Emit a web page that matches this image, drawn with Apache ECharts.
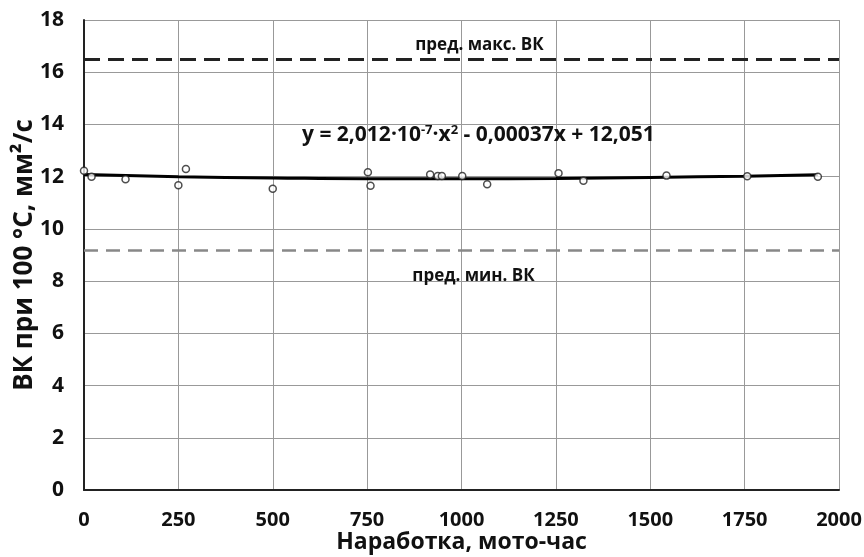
<!DOCTYPE html>
<html>
<head>
<meta charset="utf-8">
<script src="https://cdn.jsdelivr.net/npm/echarts@6/dist/echarts.min.js"></script>
<style>
  html, body { margin: 0; padding: 0; background: #fff; }
  #chart { width: 864px; height: 557px; }
</style>
</head>
<body>
<div id="chart"></div>
<script>
// measured points: hours vs viscosity at 100 °C
const hours = [0, 20, 110, 250, 270, 500, 752, 759, 917, 937, 948, 1002, 1068, 1257, 1323, 1543, 1757, 1944];
const viscosity = [12.23, 12.0, 11.9, 11.67, 12.29, 11.54, 12.17, 11.65, 12.08, 12.03, 12.03, 12.03, 11.71, 12.13, 11.84, 12.04, 12.02, 12.0];

// trend curve, read at a few points
const trendX = [0, 250, 500, 750, 1000, 1250, 1500, 1750, 1944];
const trendY = [12.08, 12.0, 11.95, 11.92, 11.92, 11.93, 11.97, 12.02, 12.07];

const maxLimit = 16.5;
const minLimit = 9.2;

const xTicks = { min: 0, max: 2000, step: 250 };
const yTicks = { min: 0, max: 18, step: 2 };

const font = 'Open Sans';

const chart = echarts.init(document.getElementById('chart'));

const option = {
    animation: false,
    backgroundColor: '#fff',
    grid: { left: 84, right: 25, top: 20, bottom: 67, containLabel: false, outerBoundsMode: 'none' },
    textStyle: { fontFamily: font },
    xAxis: {
        type: 'value',
        min: xTicks.min,
        max: xTicks.max,
        interval: xTicks.step,
        name: 'Наработка, мото-час',
        nameLocation: 'middle',
        nameGap: 41,
        nameMoveOverlap: false,
        nameTextStyle: { fontFamily: font, fontWeight: 'bold', fontSize: 23, color: '#111' },
        axisLine: { show: true, onZero: false, lineStyle: { color: '#222', width: 2 } },
        axisTick: { show: false },
        axisLabel: {
            fontFamily: font, fontWeight: 'bold', fontSize: 20, color: '#111', margin: 20,
            formatter: v => String(v)
        },
        splitLine: { show: true, lineStyle: { color: '#999', width: 1 } }
    },
    yAxis: {
        type: 'value',
        min: yTicks.min,
        max: yTicks.max,
        interval: yTicks.step,
        name: 'ВК при 100 °С, мм²/с',
        nameLocation: 'middle',
        nameGap: 46,
        nameMoveOverlap: false,
        nameTextStyle: { fontFamily: font, fontWeight: 'bold', fontSize: 26, color: '#111' },
        axisLine: { show: true, onZero: false, lineStyle: { color: '#222', width: 2 } },
        axisTick: { show: false },
        axisLabel: { fontFamily: font, fontWeight: 'bold', fontSize: 21, color: '#111', margin: 20 },
        splitLine: { show: true, lineStyle: { color: '#999', width: 1 } }
    },
    series: [
        {
            name: 'trend',
            type: 'line',
            data: trendX.map((x, i) => [x, trendY[i]]),
            smooth: true,
            showSymbol: false,
            lineStyle: { color: '#000', width: 3 },
            z: 3,
            markLine: {
                silent: true,
                symbol: 'none',
                data: [
                    {
                        yAxis: maxLimit,
                        lineStyle: { color: '#222', width: 3, type: [16, 8] },
                        label: {
                            show: true, position: 'insideMiddleTop', formatter: 'пред. макс. ВК',
                            fontFamily: font, fontWeight: 'bold', fontSize: 17, color: '#111',
                            distance: 6, offset: [18, 0]
                        }
                    },
                    {
                        yAxis: minLimit,
                        lineStyle: { color: '#888', width: 2.5, type: [14, 8] },
                        label: {
                            show: true, position: 'insideMiddleBottom', formatter: 'пред. мин. ВК',
                            fontFamily: font, fontWeight: 'bold', fontSize: 17, color: '#111',
                            distance: 18, offset: [12, 0]
                        }
                    }
                ]
            }
        },
        {
            name: 'points',
            type: 'scatter',
            data: hours.map((x, i) => [x, viscosity[i]]),
            symbol: 'circle',
            symbolSize: 7,
            itemStyle: { color: '#fff', borderColor: '#222', borderWidth: 1.5 },
            z: 4
        }
    ],
    graphic: [
        {
            type: 'text',
            left: 302,
            top: 124,
            z: 10,
            style: {
                text: '{m|y = 2,012·10}{s|-7}{m|·x}{s|2}{m| - 0,00037x + 12,051}',
                rich: {
                    m: { fontFamily: font, fontWeight: 'bold', fontSize: 21, fill: '#111' },
                    s: { fontFamily: font, fontWeight: 'bold', fontSize: 13, fill: '#111', padding: [0, 0, 10, 0] }
                }
            }
        }
    ]
};

chart.setOption(option);
</script>
</body>
</html>
